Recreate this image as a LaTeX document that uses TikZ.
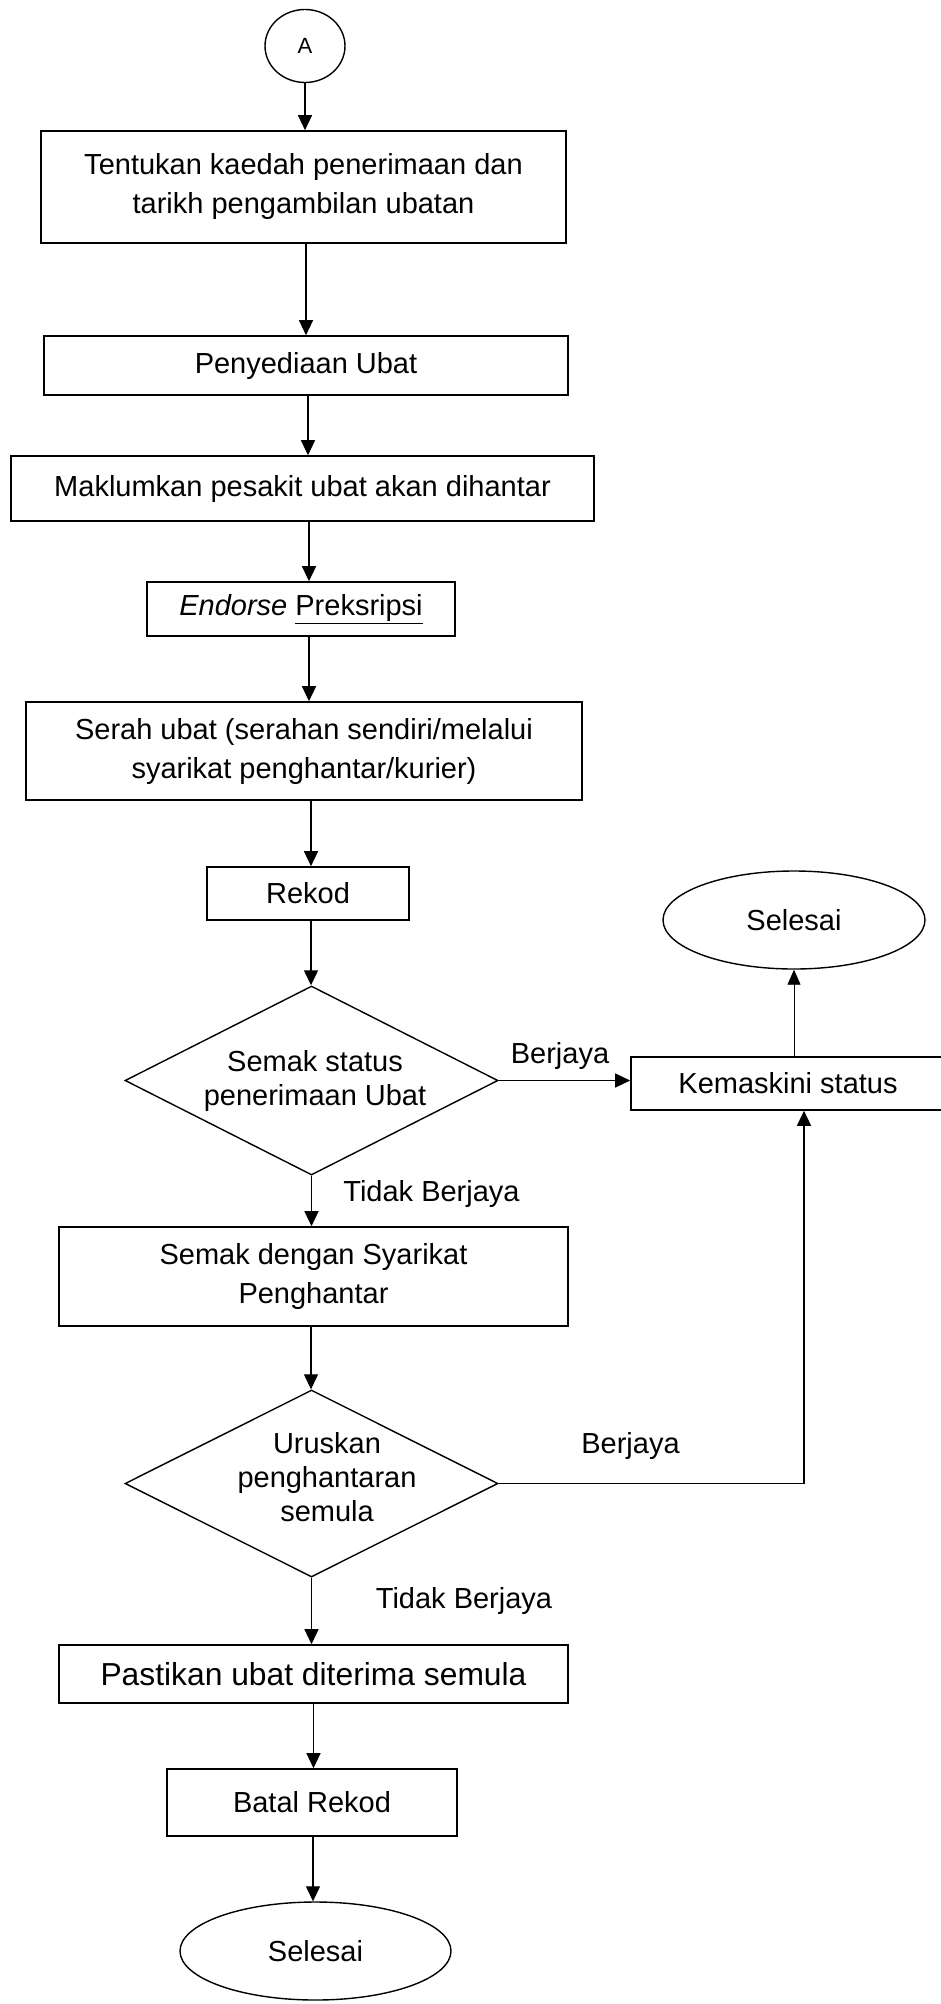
\documentclass[tikz,border=0pt]{standalone}
\usepackage{fontspec}
\setmainfont{Liberation Sans}
\usetikzlibrary{shapes.geometric,arrows.meta}
\begin{document}
\begin{tikzpicture}[x=1pt,y=-1pt,
  box/.style={draw, line width=1.6pt, inner sep=0pt, align=center,
    font=\fontsize{29}{39}\selectfont},
  term/.style={draw, ellipse, line width=1.4pt, inner sep=0pt,
    font=\fontsize{29}{35}\selectfont},
  dec/.style={draw, diamond, line width=1.4pt, inner sep=0pt,
    minimum width=373pt},
  dectext/.style={align=center, inner sep=0pt,
    font=\fontsize{29}{34}\selectfont},
  lbl/.style={anchor=base, inner sep=0pt, font=\fontsize{29}{35}\selectfont},
  arr/.style={line width=1.3pt, -{Triangle[length=15pt,width=14pt]}},
  thinarr/.style={line width=0.9pt, -{Triangle[length=15pt,width=13pt]}},
]
\useasboundingbox (0,0) rectangle (941,2004);
\clip (0,0) rectangle (941,2004);

% main column
\node[draw, ellipse, line width=1.4pt, inner sep=0pt, minimum width=80pt,
  minimum height=73pt, font=\fontsize{22}{26}\selectfont] (a) at (305,46) {A};
\node[box, minimum width=525pt, minimum height=112pt] (b1) at (303.5,187)
  {Tentukan kaedah penerimaan dan\\tarikh pengambilan ubatan};
\node[box, minimum width=524pt, minimum height=59pt] (b2) at (306,365.5)
  {Penyediaan Ubat};
\node[box, minimum width=583pt, minimum height=65pt] (b3) at (302.5,488.5)
  {Maklumkan pesakit ubat akan dihantar};
\node[box, minimum width=308pt, minimum height=54pt] (b4) at (301,609)
  {\textit{Endorse} \underline{Preksripsi}};
\node[box, minimum width=556pt, minimum height=98pt] (b5) at (304,751)
  {Serah ubat (serahan sendiri/melalui\\syarikat penghantar/kurier)};
\node[box, minimum width=202pt, minimum height=53pt] (rek) at (308,893.5)
  {Rekod};
\node[dec, minimum height=189pt] (d1) at (311.5,1080.5) {};
\node[dectext] (d1t) at (315,1081) {Semak status\\penerimaan Ubat};
\node[box, minimum width=509pt, minimum height=99pt] (b6) at (313.5,1276.5)
  {Semak dengan Syarikat\\Penghantar};
\node[dec, minimum height=187pt] (d2) at (311.5,1483.5) {};
\node[dectext] (d2t) at (327,1477) {Uruskan\\penghantaran\\semula};
\node[box, minimum width=509pt, minimum height=58pt,
  font=\fontsize{31.8}{38}\selectfont] (b7) at (313.5,1674)
  {Pastikan ubat diterima semula};
\node[box, minimum width=290pt, minimum height=67pt] (b8) at (312,1802.5)
  {Batal Rekod};
\node[term, minimum width=271pt, minimum height=98pt] (s2) at (315.5,1951)
  {Selesai};

% right branch
\node[box, minimum width=314pt, minimum height=53pt] (kem) at (788,1083.5)
  {Kemaskini status};
\node[term, minimum width=262pt, minimum height=98pt] (s1) at (794,920)
  {Selesai};

% branch labels
\node[lbl] (l1) at (560,1063) {Berjaya};
\node[lbl] (l2) at (431.5,1201) {Tidak Berjaya};
\node[lbl] (l3) at (630.5,1453) {Berjaya};
\node[lbl] (l4) at (464,1608) {Tidak Berjaya};

% connectors
\draw[arr] (a.south) -- (a.south |- b1.north);
\draw[arr] ([xshift=2.5pt]b1.south) -- ([xshift=2.5pt]b1.south |- b2.north);
\draw[arr] ([xshift=2pt]b2.south) -- ([xshift=2pt]b2.south |- b3.north);
\draw[arr] ([xshift=6.5pt]b3.south) -- ([xshift=6.5pt]b3.south |- b4.north);
\draw[arr] ([xshift=8pt]b4.south) -- ([xshift=8pt]b4.south |- b5.north);
\draw[arr] ([xshift=7pt]b5.south) -- ([xshift=7pt]b5.south |- rek.north);
\draw[arr] ([xshift=3pt]rek.south) -- ([xshift=3pt]rek.south |- d1.north);
\draw[arr] (d1.south) -- (d1.south |- b6.north);
\draw[arr] ([xshift=-2.5pt]b6.south) -- ([xshift=-2.5pt]b6.south |- d2.north);
\draw[arr] (d2.south) -- (d2.south |- b7.north);
\draw[arr] (b7.south) -- (b7.south |- b8.north);
\draw[arr] ([xshift=1pt]b8.south) -- ([xshift=1pt]b8.south |- s2.north);

\draw[arr] (d1.east) -- (d1.east -| kem.west);
\draw[arr] (d2.east) -| ([xshift=16pt]kem.south);
\draw[thinarr] (kem.north -| s1.south) -- (s1.south);
\end{tikzpicture}
\end{document}
